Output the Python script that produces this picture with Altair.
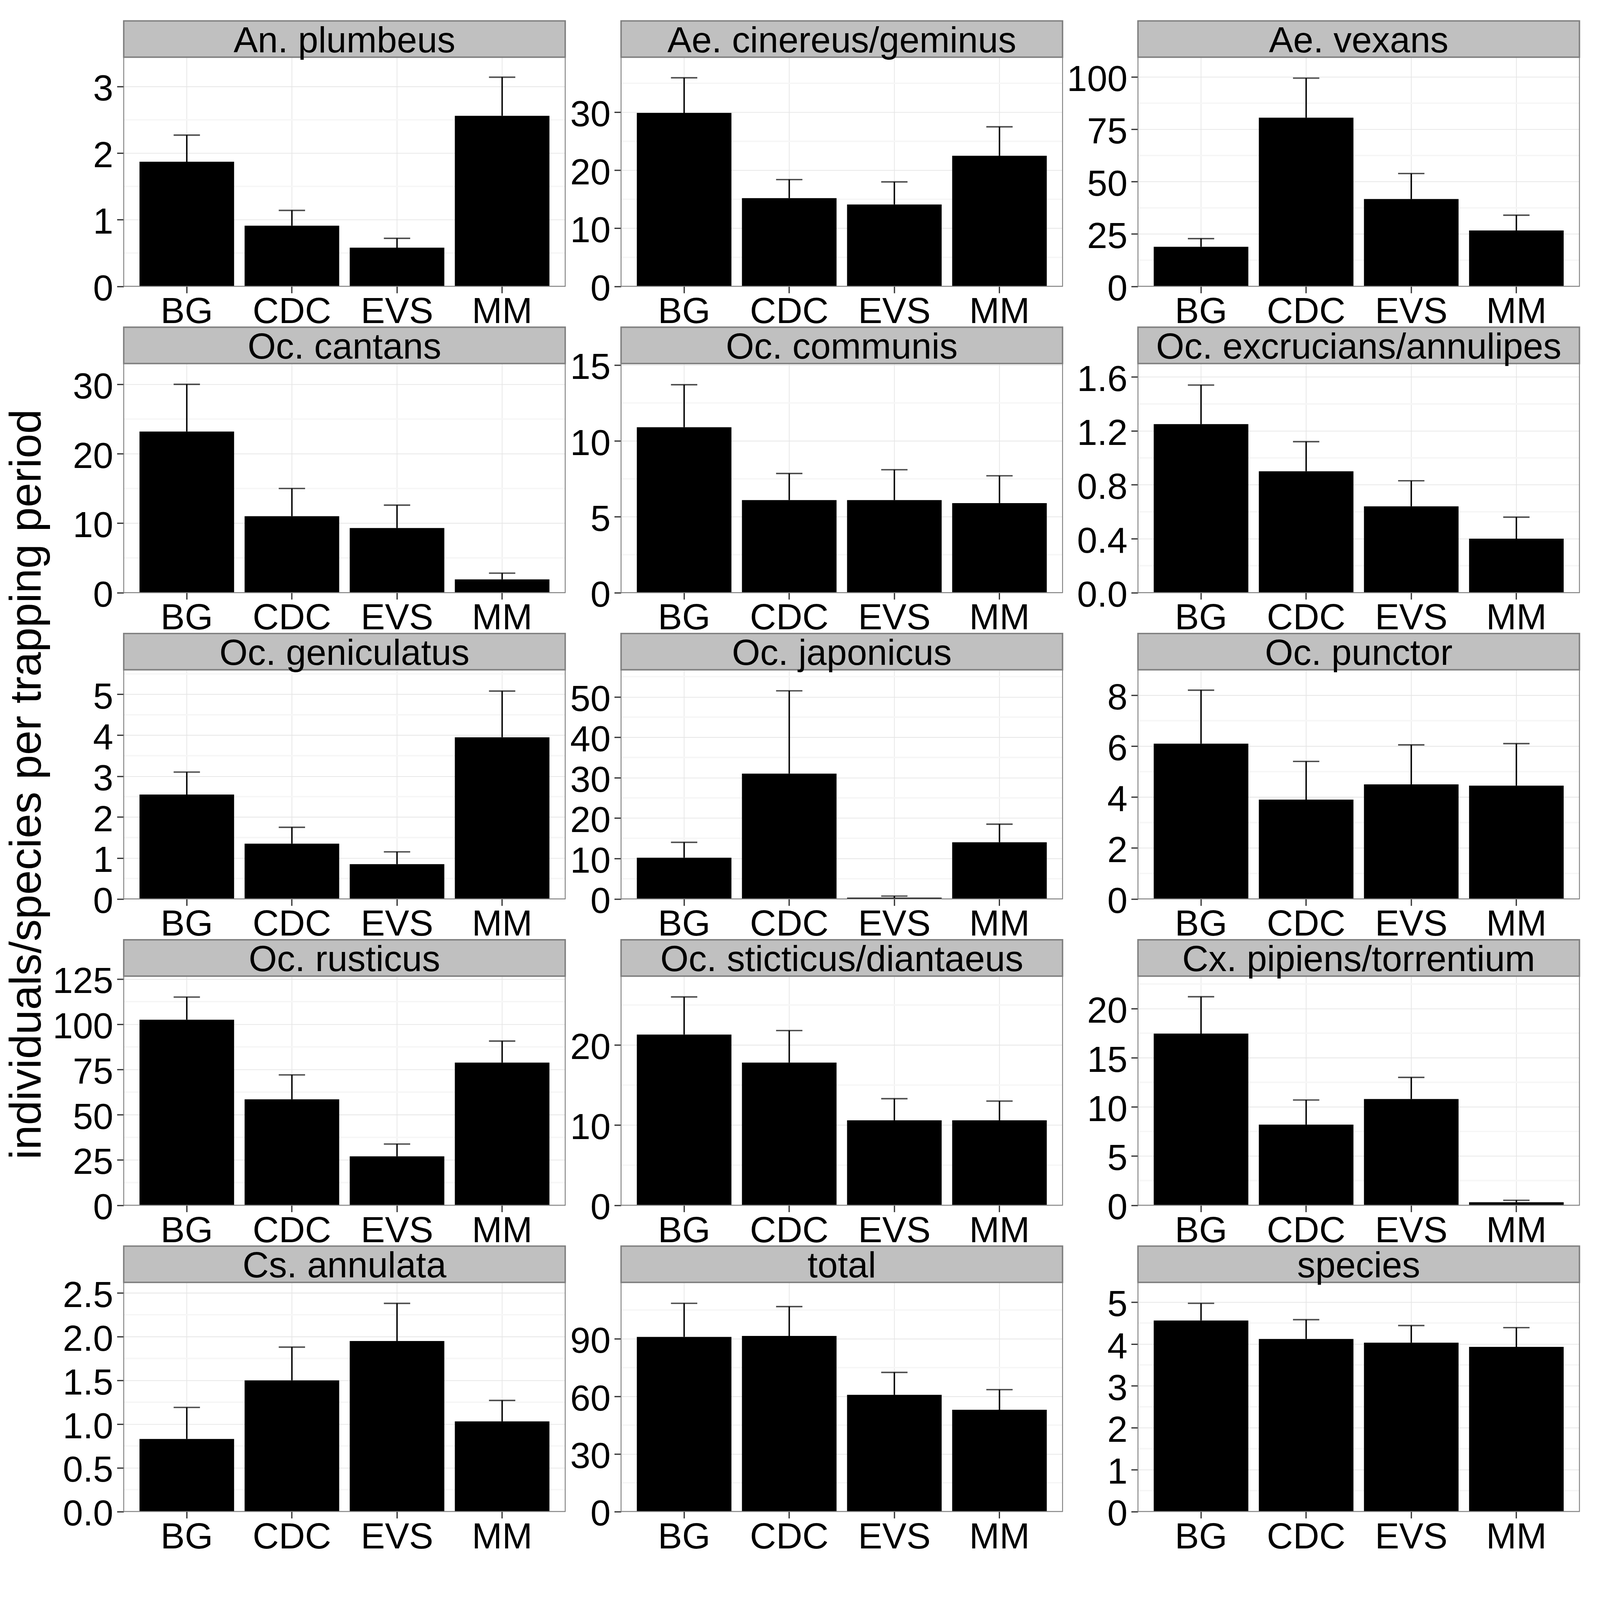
import altair as alt
import pandas as pd

sites = ["BG", "CDC", "EVS", "MM"]
species = [
    "An. plumbeus", "Ae. cinereus/geminus", "Ae. vexans",
    "Oc. cantans", "Oc. communis", "Oc. excrucians/annulipes",
    "Oc. geniculatus", "Oc. japonicus", "Oc. punctor",
    "Oc. rusticus", "Oc. sticticus/diantaeus", "Cx. pipiens/torrentium",
    "Cs. annulata", "total", "species",
]
means = [
    [1.87, 0.91, 0.58, 2.56],
    [29.9, 15.2, 14.1, 22.5],
    [18.9, 80.6, 41.7, 26.7],
    [23.2, 11.0, 9.3, 1.9],
    [10.9, 6.1, 6.1, 5.9],
    [1.25, 0.90, 0.64, 0.40],
    [2.55, 1.35, 0.85, 3.95],
    [10.2, 31.0, 0.3, 14.0],
    [6.1, 3.9, 4.5, 4.45],
    [102.5, 58.5, 27.0, 78.8],
    [21.3, 17.8, 10.6, 10.6],
    [17.45, 8.2, 10.8, 0.3],
    [0.83, 1.50, 1.95, 1.03],
    [91.0, 91.5, 60.8, 53.0],
    [4.56, 4.12, 4.03, 3.93],
]
uppers = [
    [2.27, 1.14, 0.72, 3.14],
    [35.95, 18.4, 18.0, 27.5],
    [22.8, 99.5, 53.9, 34.0],
    [30.0, 15.0, 12.6, 2.8],
    [13.7, 7.85, 8.1, 7.7],
    [1.54, 1.12, 0.83, 0.56],
    [3.1, 1.75, 1.15, 5.08],
    [14.0, 51.5, 0.7, 18.5],
    [8.2, 5.4, 6.05, 6.1],
    [115.0, 72.0, 33.8, 90.7],
    [26.0, 21.8, 13.3, 13.0],
    [21.2, 10.7, 13.0, 0.5],
    [1.19, 1.88, 2.38, 1.27],
    [108.5, 106.8, 72.5, 63.5],
    [4.97, 4.58, 4.44, 4.39],
]
tops = [3.44, 39.5, 109.5, 33.0, 15.1, 1.70, 5.6, 56.7, 9.0,
        126.6, 28.6, 23.3, 2.62, 119.4, 5.47]
ticks = [
    [0, 1, 2, 3], [0, 10, 20, 30], [0, 25, 50, 75, 100],
    [0, 10, 20, 30], [0, 5, 10, 15], [0, 0.4, 0.8, 1.2, 1.6],
    [0, 1, 2, 3, 4, 5], [0, 10, 20, 30, 40, 50], [0, 2, 4, 6, 8],
    [0, 25, 50, 75, 100, 125], [0, 10, 20], [0, 5, 10, 15, 20],
    [0, 0.5, 1, 1.5, 2, 2.5], [0, 30, 60, 90], [0, 1, 2, 3, 4, 5],
]
formats = ["d", "d", "d", "d", "d", ".1f", "d", "d", "d",
           "d", "d", "d", ".1f", "d", "d"]
y_title = "individuals/species per trapping period"

W = 1241          # plot width
STRIP = 102       # strip height
PH = 644          # plot height
CELL = 860.5      # row pitch (strip + plot + x labels)
OFF = 216.5       # content drawn this far above each cell's top
S0 = -OFF         # strip top inside the cell
P0 = S0 + STRIP   # plot top inside the cell
P1 = P0 + PH      # plot bottom inside the cell
FONT = "Liberation Sans"
LEFT = 339
TOP = 52


def panel(i):
    df = pd.DataFrame({"site": sites, "mean": means[i], "upper": uppers[i]})
    t = ticks[i]
    step = t[1] - t[0]
    minor = [v + step / 2 for v in t if v + step / 2 < tops[i]]

    xscale = alt.Scale(domain=sites, paddingInner=0.1, paddingOuter=0.15)
    xaxis = alt.Axis(title=None, grid=False, labelAngle=0, offset=P1 - CELL)
    yscale = alt.Scale(domain=[0, tops[i]], range=[P1, P0], nice=False, zero=True)
    yaxis = alt.Axis(title=None, values=t, format=formats[i])

    def X(f):
        return alt.X(f, sort=sites, scale=xscale, axis=xaxis, title=None)

    def Y(f):
        return alt.Y(f, scale=yscale, axis=yaxis, title=None)

    base = alt.Chart(df)
    xgrid = base.mark_rule(color="#E5E5E5", strokeWidth=2).encode(
        x=X("site:N"), y=alt.value(P0), y2=alt.value(P1)
    )
    minor_layer = alt.Chart(pd.DataFrame({"mean": minor})).mark_rule(
        color="#F6F6F6", strokeWidth=4
    ).encode(y=Y("mean:Q"))

    bars = base.mark_bar(color="black").encode(x=X("site:N"), y=Y("mean:Q"))
    whisk = base.mark_rule(color="black", strokeWidth=4).encode(
        x=X("site:N"), y=Y("mean:Q"), y2="upper:Q"
    )
    cap = base.mark_tick(color="black", size=74, thickness=4, orient="horizontal").encode(
        x=X("site:N"), y=Y("upper:Q")
    )

    lab = pd.DataFrame({"label": [species[i]]})
    border = alt.Chart(lab).mark_rect(
        fill="white", fillOpacity=0, stroke="#7F7F7F", strokeWidth=2.5
    ).encode(x=alt.value(0), x2=alt.value(W), y=alt.value(P0), y2=alt.value(P1))
    strip_rect = alt.Chart(lab).mark_rect(
        fill="#C0C0C0", stroke="#7F7F7F", strokeWidth=4
    ).encode(x=alt.value(0), x2=alt.value(W), y=alt.value(S0), y2=alt.value(P0))
    strip_text = alt.Chart(lab).mark_text(
        font=FONT, fontSize=102, color="black", align="center", baseline="alphabetic"
    ).encode(x=alt.value(W / 2), y=alt.value(P0 - 14), text="label:N")

    layers = [xgrid, minor_layer, bars, whisk, cap, border, strip_rect, strip_text]
    if i == 6:
        tt = alt.Chart(pd.DataFrame({"t": [y_title]})).mark_text(
            font=FONT, fontSize=124, color="black", angle=270,
            align="center", baseline="alphabetic"
        ).encode(x=alt.value(-234), y=alt.value(P0 + PH / 2), text="t:N")
        layers.append(tt)
    return alt.layer(*layers).properties(width=W, height=CELL)


def spacer(w):
    return alt.Chart(pd.DataFrame({"a": [0]})).mark_point(opacity=0).encode(
        x=alt.value(0), y=alt.value(0)
    ).properties(width=w, height=CELL)


cells = []
for r in range(5):
    cells.append(panel(3 * r))
    cells.append(spacer(57))
    cells.append(panel(3 * r + 1))
    cells.append(spacer(112))
    cells.append(panel(3 * r + 2))

chart = alt.concat(
    *cells, columns=5, spacing={"row": 0, "column": 50},
    bounds="flush", align="each",
).properties(
    autosize=alt.AutoSizeParams(type="none"),
    padding={"left": LEFT, "top": TOP, "right": 4480 - LEFT, "bottom": 4376 - TOP},
    background="white",
).configure_view(
    strokeWidth=0, stroke="transparent"
).configure_axis(
    labelFont=FONT, labelFontSize=102, labelColor="black", labelLimit=2000,
    tickColor="#333333", tickWidth=3.5, tickSize=19,
    domain=False, gridColor="#E5E5E5", gridWidth=2,
).configure_axisX(
    labelPadding=3
).configure_axisY(
    labelPadding=11, labelOffset=8
)

chart.save("out.html", embed_options={"renderer": "svg", "actions": False})
